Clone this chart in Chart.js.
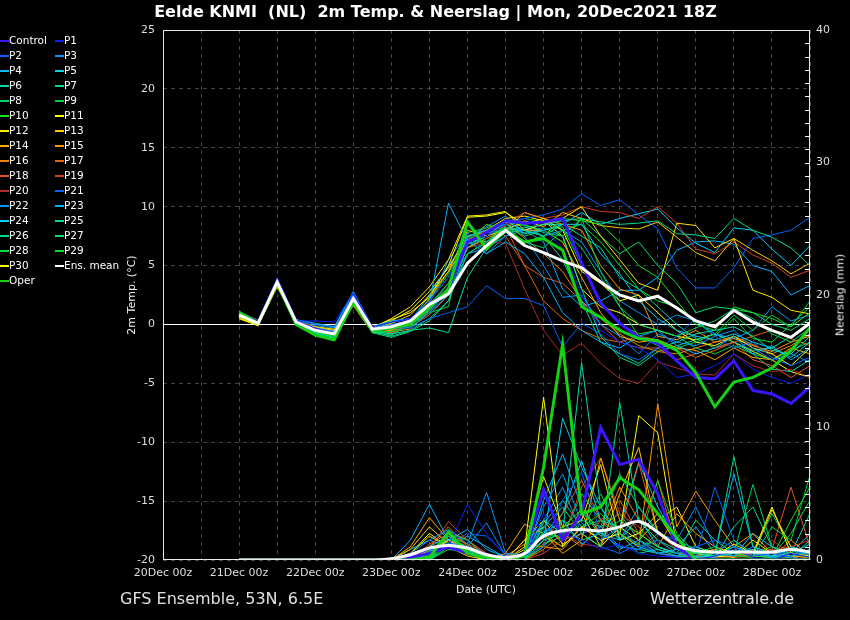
<!DOCTYPE html>
<html>
<head>
<meta charset="utf-8">
<script src="https://cdn.jsdelivr.net/npm/chart.js@4.4.1/dist/chart.umd.min.js"></script>
<style>
  html, body { margin: 0; padding: 0; background: #000; }
  #wrap { position: relative; width: 850px; height: 620px; overflow: hidden; font-family: 'DejaVu Sans', sans-serif; color: #fff; background: #000; }
  #chart { position: absolute; left: 0; top: 0; }
  #title { position: absolute; top: 2px; left: 0; width: 871px; text-align: center; font-weight: bold; font-size: 16px; line-height: 20px; white-space: pre; }
  #legend { position: absolute; left: 0; top: 33px; width: 130px; height: 260px; }
  .lg { position: absolute; height: 15px; line-height: 15px; font-size: 10.5px; padding-left: 9px; white-space: nowrap; color: #fff; }
  .lg .sw { position: absolute; left: 0; top: 7px; width: 9px; height: 2px; }
  .axt { position: absolute; font-size: 11px; color: #f0f0f0; white-space: nowrap; transform: translate(-50%, -50%) rotate(-90deg); }
  #xtitle { position: absolute; left: 486px; top: 589px; transform: translate(-50%, -50%); font-size: 11px; color: #e8e8e8; white-space: nowrap; }
  .foot { position: absolute; top: 589px; font-size: 16px; line-height: 20px; color: #e0e0e0; white-space: nowrap; }
</style>
</head>
<body>
<div id="wrap">
  <canvas id="chart" width="850" height="620"></canvas>
  <div id="title">Eelde KNMI  (NL)  2m Temp. &amp; Neerslag | Mon, 20Dec2021 18Z</div>
  <div id="legend"></div>
  <div class="axt" style="left:131px; top:295px;">2m Temp. (°C)</div>
  <div class="axt" style="left:840px; top:295px;">Neerslag (mm)</div>
  <div id="xtitle">Date (UTC)</div>
  <div class="foot" style="left:120px;">GFS Ensemble, 53N, 6.5E</div>
  <div class="foot" style="left:650px;">Wetterzentrale.de</div>
</div>
<script>
// hours after 20Dec 00z, every 6h from 21Dec 00z to 28Dec 12z
const hours = [24, 30, 36, 42, 48, 54, 60, 66, 72, 78, 84, 90, 96, 102, 108, 114, 120, 126, 132, 138, 144, 150, 156, 162, 168, 174, 180, 186, 192, 198, 204];
const dayLabels = ['20Dec 00z', '21Dec 00z', '22Dec 00z', '23Dec 00z', '24Dec 00z', '25Dec 00z', '26Dec 00z', '27Dec 00z', '28Dec 00z'];

// 2m temperature (°C)
const tControl = [0.9,0.2,3.7,0.2,-0.4,-0.8,2.3,-0.4,-0.2, 0.3,1.6,3.0,7.0,7.8,8.8,8.6,8.7,9.0,5.2,1.8,0.1,-1.1,-1.6,-3.1,-4.5,-4.6,-3.1,-5.6,-5.9,-6.7,-5.3];
const tP1 = [1.0,0.2,3.8,0.3,0.3,0.2,2.7,-0.2,0.2, 0.5,2.0,4.0,7.0,7.5,8.5,9.0,8.0,6.5,2.5,-0.5,-1.5,-2.0,-3.0,-4.5,-4.2,-3.5,-2.5,-3.8,-4.5,-5.0,-4.2];
const tP2 = [0.8,0.1,3.6,0.1,-0.3,-0.6,2.2,-0.5,-0.3, -0.3,0.5,1.0,1.5,3.3,2.2,2.2,1.6,-1.9,0.1,-0.8,-2.5,-3.0,-2.0,-1.0,0.5,-1.0,-2.0,-1.5,-2.8,-3.5,-2.8];
const tP3 = [0.9,0.1,3.7,0.2,-0.4,-0.7,2.4,-0.3,0.0, -0.3,1.0,3.0,7.3,8.3,9.2,7.5,5.0,2.3,2.5,0.0,-1.0,-2.5,-0.8,-1.5,-1.8,-1.0,-0.5,-2.0,-3.0,-2.5,-3.2];
const tP4 = [1.1,0.3,3.9,0.4,0.1,-0.2,2.8,-0.2,0.3, 0.5,1.8,10.3,7.1,6.0,7.0,6.0,4.0,1.0,-0.5,-1.5,-2.0,-1.0,-0.5,-1.8,-2.5,-2.0,-1.0,-2.5,-1.8,-3.0,-2.0];
const tP5 = [0.8,0.2,3.6,0.1,-0.5,-0.9,2.1,-0.5,-0.4, 0.2,1.5,2.5,7.5,8.0,8.5,7.7,8.0,8.5,8.5,6.0,4.3,2.0,0.5,-0.5,-1.0,-1.3,-0.8,-1.5,-2.0,-2.8,-1.5];
const tP6 = [0.7,0.0,3.5,0.0,-0.7,-1.1,1.9,-0.6,-0.8, -0.5,0.5,2.0,6.8,7.5,8.7,8.0,7.5,5.5,2.0,-1.5,-2.5,-3.3,-2.0,-1.5,-0.8,-0.5,-0.2,-1.0,-2.2,-2.5,-1.0];
const tP7 = [0.9,0.1,3.7,0.3,-0.3,-0.6,2.5,-0.4,-0.1, 0.0,1.2,3.0,6.5,7.8,8.0,8.2,8.5,8.8,9.0,8.7,8.5,8.6,8.8,7.7,7.6,7.3,9.0,8.0,7.4,6.5,5.0];
const tP8 = [0.8,0.0,3.5,-0.1,-0.8,-1.3,1.8,-0.7,-0.9, 0.0,1.5,3.5,6.0,7.0,8.0,7.0,6.5,8.0,6.5,4.0,1.5,0.0,-0.5,-1.0,-0.3,0.3,1.3,0.5,-0.8,-1.5,-0.3];
const tP9 = [1.0,0.1,3.6,0.0,-0.9,-1.4,1.7,-0.6,-0.6, -0.2,1.0,1.5,8.7,7.0,8.3,7.5,8.0,7.0,9.0,4.5,1.5,-1.0,-1.8,-2.0,-1.5,-0.8,0.8,-0.5,0.8,-0.2,2.0];
const tP10 = [1.1,0.2,3.8,0.2,-0.6,-1.0,2.2,-0.4,-0.2, 0.3,2.0,4.0,7.0,8.5,8.0,7.0,7.5,9.0,8.8,8.5,7.0,5.0,4.0,2.0,0.0,-0.5,1.5,1.0,0.5,-0.2,1.0];
const tP11 = [0.6,-0.1,3.3,0.2,-0.3,-0.5,2.0,-0.2,0.4, 1.0,2.3,5.0,9.1,9.2,9.5,8.5,9.0,8.0,4.5,3.5,2.0,2.5,1.0,-0.5,-1.5,-1.8,-1.0,-2.0,-2.5,-3.5,-2.0];
const tP12 = [0.5,-0.1,3.2,0.1,-0.2,-0.4,1.9,-0.3,0.5, 1.5,3.2,5.5,9.2,9.3,9.6,8.0,8.5,9.0,10.0,7.5,5.5,3.5,2.9,8.6,8.4,6.5,7.3,2.9,2.3,1.2,0.9];
const tP13 = [0.7,0.0,3.4,0.2,-0.4,-0.7,2.1,-0.4,0.1, 0.8,2.5,4.5,8.0,7.5,8.0,8.8,8.3,9.5,9.0,8.4,8.2,8.1,8.7,7.4,6.1,5.4,7.3,6.3,5.4,4.3,5.2];
const tP14 = [0.8,0.1,3.5,0.1,-0.5,-0.8,1.6,-0.7,-0.5, 0.2,2.2,4.5,7.0,7.8,8.8,8.0,8.0,7.0,4.0,1.0,-1.0,-1.5,-1.3,-2.0,-2.2,-3.0,-2.0,-2.8,-3.0,-2.0,-2.5];
const tP15 = [0.9,0.2,3.6,0.2,-0.4,-0.7,1.7,-0.5,-0.3, 0.0,1.8,3.0,6.5,7.3,8.0,9.5,9.0,8.5,8.0,5.0,3.0,2.5,-1.0,-1.3,-0.5,-1.5,-1.2,-1.8,-2.3,-1.5,-1.0];
const tP16 = [0.8,0.1,3.5,0.0,-0.6,-0.9,2.0,-0.6,-0.6, -0.4,1.2,3.2,7.5,7.8,8.7,7.3,6.0,4.5,2.0,0.5,-0.8,-1.8,-2.3,-2.5,-2.0,-1.5,-1.0,-1.7,-2.5,-1.8,-0.8];
const tP17 = [0.9,0.1,3.6,0.1,-0.5,-0.8,1.8,-0.5,-0.7, 0.1,1.5,2.8,6.8,8.5,7.5,5.0,2.0,0.5,-0.5,-1.2,-1.5,-1.0,-1.3,-2.0,-2.8,-2.2,-1.5,-1.0,-0.5,-1.2,-1.8];
const tP18 = [1.0,0.2,3.7,0.2,-0.3,-0.6,2.3,-0.4,-0.5, -0.2,0.8,2.5,7.2,8.0,8.3,5.0,4.0,3.5,2.0,0.0,-1.5,-2.0,-2.0,-3.0,-2.5,-2.0,-1.5,-3.0,-3.5,-4.5,-3.5];
const tP19 = [1.1,0.3,3.8,0.3,-0.2,-0.5,2.4,-0.3,-0.4, 0.2,1.5,3.5,7.0,7.5,8.5,9.5,9.0,9.3,10.0,9.6,9.5,9.0,10.0,8.6,6.4,6.0,7.0,5.9,5.2,4.0,4.6];
const tP20 = [1.0,0.4,3.7,0.2,-0.4,-0.7,2.2,-0.5,-0.6, 0.0,1.5,3.0,6.5,7.0,6.9,3.0,-0.5,-2.6,-1.6,-3.3,-4.6,-5.0,-3.2,-3.7,-4.2,-4.3,-2.5,-3.5,-4.0,-3.8,-4.5];
const tP21 = [0.9,0.2,3.7,0.4,0.0,-0.2,2.6,-0.2,0.1, 0.5,2.0,4.0,7.5,8.0,8.8,9.0,9.3,9.8,11.1,10.1,10.6,9.3,8.1,4.8,3.1,3.1,4.8,7.3,7.6,8.0,9.1];
const tP22 = [0.8,0.1,3.6,0.3,-0.1,-0.3,2.5,-0.3,0.0, 0.3,1.7,5.5,7.8,6.0,7.5,8.3,7.5,8.0,7.0,4.5,2.0,1.0,0.0,0.8,0.3,-0.8,-1.2,-0.5,1.5,0.3,0.8];
const tP23 = [0.9,0.2,3.8,0.3,-0.2,-0.5,2.7,-0.2,-0.2, 0.0,1.0,2.5,6.0,6.5,7.5,8.0,7.0,3.0,1.5,2.0,2.9,2.9,4.0,6.3,7.0,7.1,6.8,5.0,4.5,2.5,3.3];
const tP24 = [1.0,0.2,3.7,0.2,-0.3,-0.6,2.4,-0.3,-0.3, 0.3,2.5,5.0,7.2,7.0,8.2,8.0,8.5,8.5,9.5,8.5,9.0,9.4,9.8,8.2,6.9,6.1,8.2,8.0,6.4,5.0,6.7];
const tP25 = [0.8,0.0,3.6,0.0,-0.7,-1.2,2.0,-0.6,-1.0, -0.5,-0.3,-0.7,4.0,6.5,7.8,8.0,7.5,8.5,7.5,6.5,4.0,3.0,1.5,0.0,-1.2,-2.0,-1.5,-2.5,-3.8,-4.0,-3.0];
const tP26 = [0.9,0.1,3.6,0.1,-0.6,-1.0,2.1,-0.5,-0.8, 0.0,1.3,3.0,6.5,7.5,8.2,8.5,7.8,7.5,3.0,-1.0,-2.8,-3.5,-2.3,-1.8,-1.3,-0.8,-1.5,-2.2,-2.0,-1.0,0.2];
const tP27 = [0.8,0.0,3.5,0.0,-0.8,-1.2,1.9,-0.7,-1.1, -0.6,0.3,2.0,6.0,7.0,8.0,7.8,8.2,7.5,9.0,7.5,6.0,7.0,5.0,3.5,1.0,1.5,1.3,1.0,0.0,-0.5,0.5];
const tP28 = [1.0,0.1,3.7,0.1,-0.7,-1.1,2.0,-0.5,-0.7, 0.2,1.7,3.5,7.8,8.2,8.7,8.4,8.0,8.3,5.0,2.0,0.0,-0.8,-0.5,-1.0,-2.0,-2.5,-1.8,-2.5,-3.0,-2.2,-1.5];
const tP29 = [1.1,0.2,3.8,0.2,-0.5,-0.9,2.3,-0.4,-0.4, 0.4,2.1,4.3,7.5,7.0,8.5,9.0,8.7,8.0,8.5,7.0,5.0,3.0,2.0,1.5,0.3,-1.0,0.5,-1.2,-1.5,0.0,1.5];
const tP30 = [0.5,-0.1,3.3,0.0,-0.4,-0.6,2.0,-0.3,0.3, 1.2,2.8,4.8,7.5,8.0,9.0,9.2,8.8,7.5,3.0,1.5,1.0,0.0,-0.5,-1.0,-1.3,-0.8,-1.5,-2.3,-3.0,-4.0,-4.5];
const tMean = [0.8,0.1,3.6,0.2,-0.5,-0.8,2.2,-0.4,-0.2, 0.3,1.7,2.6,5.2,6.7,8.0,6.7,6.1,5.4,4.8,3.6,2.5,2.0,2.4,1.4,0.3,-0.2,1.2,0.2,-0.5,-1.1,0.1];
const tOper = [1.0,0.1,3.5,0.0,-0.9,-1.3,1.9,-0.5,-0.3, 0.0,1.5,3.0,8.7,6.4,8.0,7.0,7.3,6.3,1.5,0.6,-0.5,-1.2,-1.4,-2.2,-4.1,-7.0,-4.9,-4.5,-3.7,-2.2,-0.3];

// precipitation per 6h (mm)
const rControl = [0,0,0,0,0,0,0,0,0, 0.2,0.5,1.0,0.5,0.2,0,0.5,5.3,1.5,3.5,10.0,7.2,7.6,5.0,1.0,0,0,0,0,0,0,0];
const rP1 = [0,0,0,0,0,0,0,0,0, 0.2,0.8,1.0,4.2,2.0,0.3,0.2,3.5,2.0,1.5,0.8,1.2,0.5,0.3,0.2,0,0.3,0.8,0.2,0,0.5,0.2];
const rP2 = [0,0,0,0,0,0,0,0,0, 0,0.5,1.3,1.0,0.5,0,0.3,1.0,4.5,6.6,2.0,1.0,0.8,1.5,0.5,1.0,1.5,1.0,0.3,0.5,0.2,0];
const rP3 = [0,0,0,0,0,0,0,0,0, 0.5,1.5,2.3,1.2,5.1,0.5,0.4,4.0,6.5,2.8,1.5,2.5,1.0,0.5,0.3,0.8,0.5,0.3,1.0,0.2,0.3,0.8];
const rP4 = [0,0,0,0,0,0,0,0,0, 1.5,4.2,1.5,2.3,0.8,0.2,0.2,2.0,3.0,1.2,2.2,0.8,1.5,0.5,0.8,0.3,0.2,1.0,0.5,0.2,1.0,0.3];
const rP5 = [0,0,0,0,0,0,0,0,0, 0,1.0,1.8,0.6,0.3,0,0.3,1.5,10.7,7.0,4.0,1.5,3.2,1.0,0.5,0.2,0.3,0.5,0.8,0.3,0.5,1.2];
const rP6 = [0,0,0,0,0,0,0,0,0, 0,0.6,1.6,1.0,0.4,0,0.5,3.0,2.0,14.9,4.0,2.0,0.5,0.8,0.3,0.2,0.5,1.5,0.5,0.3,0.2,1.5];
const rP7 = [0,0,0,0,0,0,0,0,0, 0,0,1.3,0.8,0,0,0,2.5,4.0,2.0,1.0,11.9,3.0,1.5,0.8,0.5,0.3,7.8,1.0,0.5,0.8,0.5];
const rP8 = [0,0,0,0,0,0,0,0,0, 0.3,0,2.0,1.5,0.2,0,0,2.2,1.5,3.5,2.5,6.5,4.0,2.2,1.0,0.6,0.3,0.5,5.7,1.0,0.3,0.6];
const rP9 = [0,0,0,0,0,0,0,0,0, 0,0,1.0,0.8,0,0,0,1.0,3.0,2.2,5.0,2.0,1.2,6.0,2.0,0.5,1.0,0.3,0.2,2.5,1.5,6.4];
const rP10 = [0,0,0,0,0,0,0,0,0, 0,0.3,1.2,0.5,0,0,0,1.5,2.5,3.8,1.8,3.0,2.0,1.0,0.5,0.8,0.3,0.5,0.3,0.2,3.0,5.5];
const rP11 = [0,0,0,0,0,0,0,0,0, 0,0.8,1.5,0.5,0,0,0.8,12.3,1.0,2.5,1.5,2.0,10.9,9.6,1.0,0.5,0.3,1.2,0.5,4.0,0.5,0.3];
const rP12 = [0,0,0,0,0,0,0,0,0, 0.5,1.8,1.0,0.3,0,0,1.0,6.3,2.5,3.0,7.2,1.5,2.0,3.5,1.2,0.5,0.3,0.2,1.5,0.5,0.2,0];
const rP13 = [0,0,0,0,0,0,0,0,0, 0.8,2.5,1.2,0.8,0,0,1.5,3.0,1.2,2.0,1.0,5.0,8.5,2.0,1.0,0.5,0.8,0.5,0.3,3.8,1.0,0.5];
const rP14 = [0,0,0,0,0,0,0,0,0, 1.0,3.2,1.5,0.8,0,0.5,2.7,2.0,0.5,1.5,7.7,3.0,2.0,1.0,3.5,2.0,1.0,0.5,0.8,0.3,0.2,0];
const rP15 = [0,0,0,0,0,0,0,0,0, 0,0.5,1.5,1.0,0,0.3,1.2,1.0,0.8,2.5,1.5,2.0,1.0,11.8,2.5,5.2,3.0,1.0,2.0,0.5,0.3,0.2];
const rP16 = [0,0,0,0,0,0,0,0,0, 0,0.3,2.2,1.5,0.3,0,0.5,1.8,1.0,4.0,2.0,5.5,3.0,1.5,0.5,0.3,0.2,0.8,0.3,0.2,1.5,0.3];
const rP17 = [0,0,0,0,0,0,0,0,0, 0,1.0,2.5,1.0,0.2,0,0,0.8,2.0,1.0,3.0,4.5,2.0,6.0,1.0,0.3,0.5,0.2,0.3,0.5,0.2,0];
const rP18 = [0,0,0,0,0,0,0,0,0, 0,1.2,2.0,1.2,0.5,0,0,1.2,3.5,6.0,3.0,2.0,7.3,2.0,0.8,0.5,0.2,0.3,0.5,0.8,5.5,1.0];
const rP19 = [0,0,0,0,0,0,0,0,0, 0,0.8,2.9,1.5,0.5,0,0,0.5,1.5,5.5,7.7,3.5,2.5,1.0,0.5,0.2,0.3,0.5,0.2,0.8,1.0,1.5];
const rP20 = [0,0,0,0,0,0,0,0,0, 0,0.5,1.8,1.0,0.3,0,0,0.8,2.0,1.2,1.0,4.0,1.5,0.5,0.3,0.2,0.2,0.3,0.2,1.5,0.5,0.3];
const rP21 = [0,0,0,0,0,0,0,0,0, 0.3,0.8,1.2,2.0,1.8,0.4,0.3,2.5,1.5,2.0,1.0,0.5,1.2,0.5,0.2,0.3,5.5,1.5,0.3,0.2,0.8,0.2];
const rP22 = [0,0,0,0,0,0,0,0,0, 0,0.5,1.5,1.0,2.8,0.3,0.3,3.0,5.5,2.0,2.5,1.0,0.8,2.0,1.5,4.0,1.0,0.5,0.3,0.8,0.3,0.5];
const rP23 = [0,0,0,0,0,0,0,0,0, 0.8,1.5,1.0,1.8,1.0,0.2,0,4.5,8.0,4.0,2.0,1.5,4.0,2.0,1.0,2.5,0.5,6.5,1.0,0.5,0.3,0.8];
const rP24 = [0,0,0,0,0,0,0,0,0, 0,0.7,1.2,0.8,0.3,0,0,2.0,3.5,7.5,3.0,2.5,7.4,4.0,1.5,0.8,0.5,0.3,2.0,1.0,0.5,2.0];
const rP25 = [0,0,0,0,0,0,0,0,0, 0,0.4,1.5,0.7,0,0,0,2.8,4.5,2.5,3.0,1.5,2.0,1.0,0.5,3.0,1.5,0.5,0.3,0.2,0.5,3.5];
const rP26 = [0,0,0,0,0,0,0,0,0, 0,0,1.0,0.5,0,0,0,1.5,2.0,3.0,2.5,3.5,1.5,0.8,0.5,0.3,0.2,2.5,4.0,1.0,0.5,0.3];
const rP27 = [0,0,0,0,0,0,0,0,0, 0,0,0.8,0.6,0,0,0,1.0,2.5,1.5,2.0,1.0,0.8,0.5,0.8,1.0,0.5,1.0,0.5,3.5,1.0,0.5];
const rP28 = [0,0,0,0,0,0,0,0,0, 0,0,1.5,1.0,0,0,0,1.2,1.8,5.0,3.0,2.0,1.0,0.5,0.3,0.5,0.3,0.8,0.5,0.3,2.0,4.5];
const rP29 = [0,0,0,0,0,0,0,0,0, 0,0,1.8,1.2,0,0,0,2.0,1.0,2.5,3.5,2.0,1.0,1.5,0.5,0.3,0.2,0.3,0.5,1.0,0.5,0.2];
const rP30 = [0,0,0,0,0,0,0,0,0, 0.5,2.0,1.0,0.5,0,0,1.5,2.5,1.5,3.5,1.0,2.5,1.5,3.0,4.0,1.0,0.5,0.3,0.5,0.2,0.3,0.2];
const rMean = [0,0,0,0,0,0,0,0,0.1, 0.4,0.9,1.1,0.9,0.4,0.2,0.5,1.8,2.2,2.3,2.2,2.5,2.9,2.1,1.1,0.7,0.6,0.6,0.6,0.6,0.8,0.6];
const rOper = [0,0,0,0,0,0,0,0,0, 0,0.2,2.1,0.5,0.2,0,0.3,7.0,16.3,3.5,4.0,6.2,5.3,3.5,1.7,0,0,0,0,0,0,0];

// legend order (two columns, row by row)
const members = [
  { name: 'Control', color: '#3c14ff', t: tControl, r: rControl, width: 3, order: 2 },
  { name: 'P1', color: '#0a1eff', t: tP1, r: rP1 },
  { name: 'P2', color: '#0062ff', t: tP2, r: rP2 },
  { name: 'P3', color: '#0096ff', t: tP3, r: rP3 },
  { name: 'P4', color: '#00b6ff', t: tP4, r: rP4 },
  { name: 'P5', color: '#00d2e6', t: tP5, r: rP5 },
  { name: 'P6', color: '#00dcaa', t: tP6, r: rP6 },
  { name: 'P7', color: '#00dc8c', t: tP7, r: rP7 },
  { name: 'P8', color: '#00d264', t: tP8, r: rP8 },
  { name: 'P9', color: '#00d23c', t: tP9, r: rP9 },
  { name: 'P10', color: '#14e614', t: tP10, r: rP10 },
  { name: 'P11', color: '#ffff00', t: tP11, r: rP11 },
  { name: 'P12', color: '#ffe600', t: tP12, r: rP12 },
  { name: 'P13', color: '#ffc800', t: tP13, r: rP13 },
  { name: 'P14', color: '#ffaa00', t: tP14, r: rP14 },
  { name: 'P15', color: '#ff9600', t: tP15, r: rP15 },
  { name: 'P16', color: '#f08200', t: tP16, r: rP16 },
  { name: 'P17', color: '#e66400', t: tP17, r: rP17 },
  { name: 'P18', color: '#e0552a', t: tP18, r: rP18 },
  { name: 'P19', color: '#d2401e', t: tP19, r: rP19 },
  { name: 'P20', color: '#b42828', t: tP20, r: rP20 },
  { name: 'P21', color: '#0064ff', t: tP21, r: rP21 },
  { name: 'P22', color: '#0096ff', t: tP22, r: rP22 },
  { name: 'P23', color: '#00b4ff', t: tP23, r: rP23 },
  { name: 'P24', color: '#00d2ff', t: tP24, r: rP24 },
  { name: 'P25', color: '#00dca0', t: tP25, r: rP25 },
  { name: 'P26', color: '#00dc8c', t: tP26, r: rP26 },
  { name: 'P27', color: '#00e06e', t: tP27, r: rP27 },
  { name: 'P28', color: '#00dc3c', t: tP28, r: rP28 },
  { name: 'P29', color: '#00e61e', t: tP29, r: rP29 },
  { name: 'P30', color: '#ffff00', t: tP30, r: rP30 },
  { name: 'Ens. mean', color: '#ffffff', t: tMean, r: rMean, width: 3, order: 0, smooth: true },
  { name: 'Oper', color: '#14d214', t: tOper, r: rOper, width: 3, order: 1 }
];

function toPoints(values) {
  return values.map((v, i) => ({ x: hours[i], y: v }));
}

function buildDatasets() {
  const sets = [];
  members.forEach(m => {
    const base = {
      label: m.name,
      borderColor: m.color,
      backgroundColor: m.color,
      borderWidth: m.width || 1,
      pointRadius: 0,
      fill: false,
      order: m.order === undefined ? 10 : m.order
    };
    sets.push({ ...base, data: toPoints(m.t), yAxisID: 'y', tension: 0 });
    sets.push({ ...base, data: toPoints(m.r), yAxisID: 'y2', tension: m.smooth ? 0.4 : 0 });
  });
  return sets;
}

function renderLegend() {
  const legendEl = document.getElementById('legend');
  members.forEach((m, i) => {
    const div = document.createElement('div');
    div.className = 'lg';
    div.style.left = (i % 2) * 55 + 'px';
    div.style.top = Math.floor(i / 2) * 15 + 'px';
    div.innerHTML = `<span class="sw" style="background:${m.color}"></span>${m.name}`;
    legendEl.appendChild(div);
  });
}

// plot frame and the small precipitation ticks on the inside of the right edge
const framePlugin = {
  id: 'frame',
  afterDraw(chart) {
    const { ctx, chartArea } = chart;
    const y2 = chart.scales.y2;
    ctx.save();
    ctx.strokeStyle = '#e8e8e8';
    ctx.lineWidth = 1;
    ctx.strokeRect(chartArea.left + 0.5, chartArea.top + 0.5, chartArea.right - chartArea.left - 1, chartArea.bottom - chartArea.top - 1);
    ctx.beginPath();
    for (let mm = 1; mm < 40; mm++) {
      const py = Math.round(y2.getPixelForValue(mm)) + 0.5;
      ctx.moveTo(chartArea.right - 5, py);
      ctx.lineTo(chartArea.right, py);
    }
    ctx.strokeStyle = '#ffffff';
    ctx.stroke();
    ctx.restore();
  }
};

Chart.defaults.font.family = "'DejaVu Sans', sans-serif";
Chart.defaults.font.size = 11;
Chart.defaults.color = '#dddddd';

const gridDash = ctx => (ctx.tick && ctx.tick.value === 0 ? [] : [4, 4]);

new Chart(document.getElementById('chart'), {
  type: 'line',
  data: { datasets: buildDatasets() },
  plugins: [framePlugin],
  options: {
    responsive: false,
    animation: false,
    devicePixelRatio: 1,
    parsing: true,
    layout: { padding: { top: 30, bottom: 36, left: 0, right: 0 } },
    plugins: { legend: { display: false }, tooltip: { enabled: false }, title: { display: false } },
    scales: {
      x: {
        type: 'linear',
        min: 0,
        max: 204,
        afterFit: s => { s.height = 24; },
        ticks: {
          stepSize: 12,
          autoSkip: false,
          maxRotation: 0,
          padding: 7,
          color: '#dddddd',
          callback: v => (v % 24 === 0 ? dayLabels[v / 24] : '')
        },
        grid: { color: '#444444', drawTicks: false },
        border: { display: false, dash: [4, 4] }
      },
      y: {
        position: 'left',
        min: -20,
        max: 25,
        afterFit: s => { s.width = 163; },
        ticks: { stepSize: 5, padding: 8, color: '#dddddd' },
        grid: {
          color: ctx => (ctx.tick && ctx.tick.value === 0 ? '#ffffff' : '#444444'),
          drawTicks: false
        },
        border: { display: false, dash: gridDash }
      },
      y2: {
        position: 'right',
        min: 0,
        max: 40,
        afterFit: s => { s.width = 40; },
        ticks: { stepSize: 10, padding: 6, color: '#dddddd' },
        grid: { drawOnChartArea: false, drawTicks: false },
        border: { display: false }
      }
    }
  }
});

renderLegend();
</script>
</body>
</html>
